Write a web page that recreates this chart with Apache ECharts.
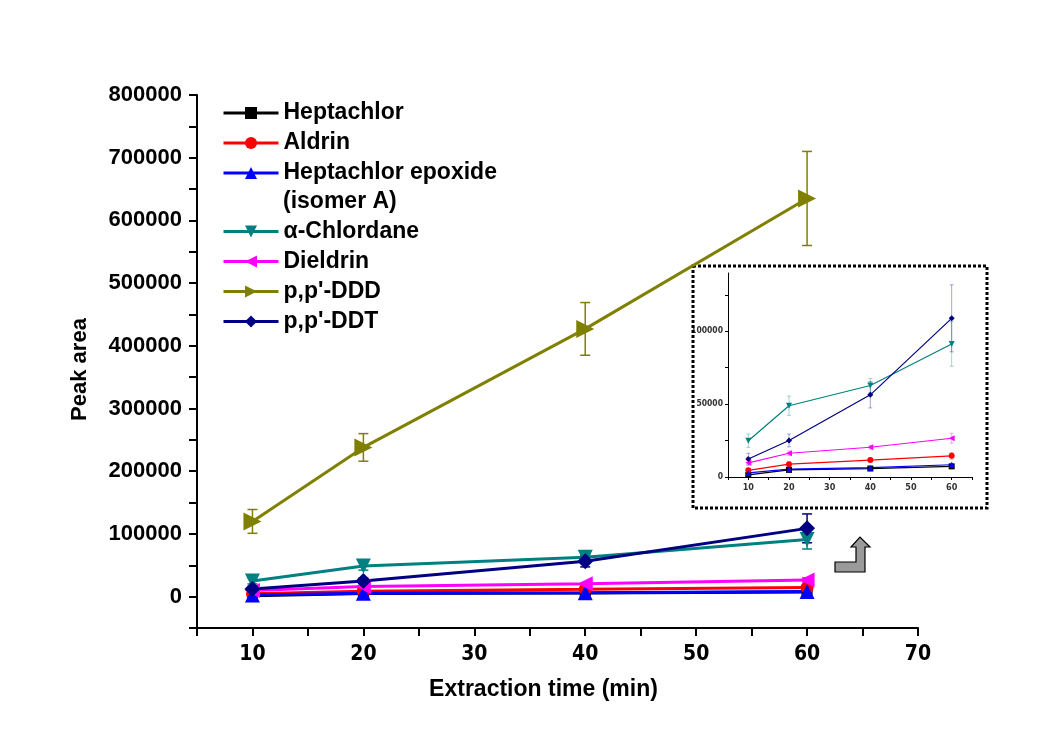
<!DOCTYPE html>
<html>
<head>
<meta charset="utf-8">
<script src="https://cdn.jsdelivr.net/npm/echarts@6/dist/echarts.min.js"></script>
<style>
  html, body { margin: 0; padding: 0; background: #ffffff; }
  #chart { width: 1050px; height: 746px; }
</style>
</head>
<body>
<div id="chart"></div>
<script>
// Extraction times (min)
const times = [10, 20, 40, 60];

// Series names
const seriesNames = [
  'Heptachlor', 'Aldrin', 'Heptachlor epoxide (isomer A)',
  'α-Chlordane', 'Dieldrin', "p,p'-DDD", "p,p'-DDT"
];

// Mean peak areas and standard deviations per compound
const heptachlor    = [1400, 4900, 5800, 7300];
const heptachlorSd  = [600, 800, 700, 700];
const aldrin        = [4600, 8800, 11600, 14500];
const aldrinSd      = [1200, 1500, 1200, 2200];
const epoxide       = [2800, 5400, 6400, 8400];
const epoxideSd     = [800, 900, 800, 1000];
const chlordane     = [24900, 48900, 62800, 91300];
const chlordaneSd   = [4600, 6600, 4800, 15300];
const dieldrin      = [9700, 16300, 20400, 26600];
const dieldrinSd    = [1600, 1500, 1200, 3400];
const ddd           = [120000, 238000, 427000, 635000];
const dddSd         = [19000, 22000, 42000, 75000];
const ddt           = [12300, 25100, 56400, 108900];
const ddtSd         = [4000, 4400, 9000, 23000];

// Tick labels
const xTickLabels      = [10, 20, 30, 40, 50, 60, 70];
const yTickLabels      = [0, 100000, 200000, 300000, 400000, 500000, 600000, 700000, 800000];
const insetXTickLabels = [10, 20, 30, 40, 50, 60];
const insetYTickLabels = [0, 50000, 100000];

const values = [heptachlor, aldrin, epoxide, chlordane, dieldrin, ddd, ddt];
const sds    = [heptachlorSd, aldrinSd, epoxideSd, chlordaneSd, dieldrinSd, dddSd, ddtSd];
const colors = ['#000000', '#ff0000', '#0000ff', '#008080', '#ff00ff', '#808000', '#000080'];
const symbols = ['rect', 'circle', 'triangle', 'triangle', 'triangle', 'triangle', 'diamond'];
const rotations = [0, 0, 0, 180, 90, -90, 0];
const mainSizes = [11, 13, 15, 15, 15, 18, 16];
const insetIncluded = [true, true, true, true, true, false, true];

const boldFont = '"Liberation Sans", Arial, sans-serif';
const narrowFont = '"Liberation Sans Narrow", "Arial Narrow", "DejaVu Sans Condensed", "Liberation Sans", sans-serif';

function errorBars(name, vals, sd, color, axisIndex, lineWidth, capHalf, opacity) {
  return {
    type: 'custom',
    name: name,
    xAxisIndex: axisIndex,
    yAxisIndex: axisIndex,
    silent: true,
    z: 3,
    encode: { x: 0, y: [1, 2] },
    data: times.map((t, i) => [t, vals[i] - sd[i], vals[i] + sd[i]]),
    renderItem: function (params, api) {
      const lo = api.coord([api.value(0), api.value(1)]);
      const hi = api.coord([api.value(0), api.value(2)]);
      const style = { stroke: color, lineWidth: lineWidth, opacity: opacity };
      return {
        type: 'group',
        children: [
          { type: 'line', shape: { x1: lo[0], y1: lo[1], x2: hi[0], y2: hi[1] }, style: style },
          { type: 'line', shape: { x1: lo[0] - capHalf, y1: lo[1], x2: lo[0] + capHalf, y2: lo[1] }, style: style },
          { type: 'line', shape: { x1: hi[0] - capHalf, y1: hi[1], x2: hi[0] + capHalf, y2: hi[1] }, style: style }
        ]
      };
    }
  };
}

const lineSeries = [];
const barSeries = [];
seriesNames.forEach((name, k) => {
  lineSeries.push({
    type: 'line',
    name: name,
    xAxisIndex: 0,
    yAxisIndex: 0,
    data: times.map((t, i) => [t, values[k][i]]),
    symbol: symbols[k],
    symbolRotate: rotations[k],
    symbolSize: mainSizes[k],
    showAllSymbol: true,
    lineStyle: { color: colors[k], width: 3 },
    itemStyle: { color: colors[k], borderWidth: 0 },
    z: 4
  });
  barSeries.push(errorBars(name, values[k], sds[k], colors[k], 0, 1.5, 5, 1));
  if (insetIncluded[k]) {
    lineSeries.push({
      type: 'line',
      name: name,
      xAxisIndex: 1,
      yAxisIndex: 1,
      data: times.map((t, i) => [t, values[k][i]]),
      symbol: symbols[k],
      symbolRotate: rotations[k],
      symbolSize: 6,
      showAllSymbol: true,
      lineStyle: { color: colors[k], width: 1.2 },
      itemStyle: { color: colors[k], borderWidth: 0 },
      z: 12
    });
    const b = errorBars(name, values[k], sds[k], colors[k], 1, 1, 2, 0.35);
    b.z = 11;
    barSeries.push(b);
  }
});

const legendCommon = {
  orient: 'vertical',
  left: 222,
  padding: 0,
  itemWidth: 55,
  itemHeight: 15,
  itemGap: 7,
  lineStyle: { width: 3 },
  textStyle: { fontFamily: boldFont, fontWeight: 'bold', fontSize: 23, color: '#000' }
};

const option = {
  animation: false,
  backgroundColor: '#ffffff',
  legend: [
    Object.assign({}, legendCommon, {
      top: 101.5,
      data: seriesNames.slice(0, 3),
      formatter: n => n.replace(' (isomer A)', '')
    }),
    Object.assign({}, legendCommon, {
      top: 220,
      data: seriesNames.slice(3)
    })
  ],
  grid: [
    { left: 197, top: 95, width: 721, height: 533 },
    { left: 728, top: 273, width: 244, height: 204 }
  ],
  xAxis: [
    {
      gridIndex: 0, type: 'value', min: 5, max: 70, interval: 5,
      name: 'Extraction time (min)', nameLocation: 'middle', nameGap: 50,
      nameTextStyle: {
        fontFamily: boldFont, fontWeight: 'bold', fontSize: 23, color: '#000',
        padding: [0, 28, 0, 0]
      },
      axisLine: { onZero: false, lineStyle: { color: '#000', width: 2 } },
      axisTick: { length: 8, lineStyle: { color: '#000', width: 2 } },
      splitLine: { show: false },
      axisLabel: {
        margin: 16, fontFamily: narrowFont, fontWeight: 'bold', fontSize: 21, color: '#000',
        formatter: v => xTickLabels.includes(v) ? String(v) : ''
      }
    },
    {
      gridIndex: 1, type: 'value', min: 5, max: 65, interval: 5,
      axisLine: { onZero: false, lineStyle: { color: '#000', width: 1 } },
      axisTick: { length: 3, lineStyle: { color: '#000', width: 1 } },
      splitLine: { show: false },
      axisLabel: {
        margin: 6, fontFamily: narrowFont, fontWeight: 'bold', fontSize: 9, color: '#333',
        formatter: v => insetXTickLabels.includes(v) ? String(v) : ''
      }
    }
  ],
  yAxis: [
    {
      gridIndex: 0, type: 'value', min: -50000, max: 800000, interval: 50000,
      name: 'Peak area', nameLocation: 'middle', nameGap: 106, nameRotate: 90,
      nameTextStyle: {
        fontFamily: boldFont, fontWeight: 'bold', fontSize: 22, color: '#000',
        padding: [0, 16, 0, 0]
      },
      axisLine: { show: true, onZero: false, lineStyle: { color: '#000', width: 2 } },
      axisTick: { show: true, length: 8, lineStyle: { color: '#000', width: 2 } },
      splitLine: { show: false },
      axisLabel: {
        margin: 15, fontFamily: boldFont, fontWeight: 'bold', fontSize: 22, color: '#000',
        formatter: v => yTickLabels.includes(v) ? String(v) : ''
      }
    },
    {
      gridIndex: 1, type: 'value', min: 0, max: 140000, interval: 25000,
      axisLine: { show: true, onZero: false, lineStyle: { color: '#000', width: 1 } },
      axisTick: { show: true, length: 3, lineStyle: { color: '#000', width: 1 } },
      splitLine: { show: false },
      axisLabel: {
        margin: 5, fontFamily: narrowFont, fontWeight: 'bold', fontSize: 8.5, color: '#333',
        showMaxLabel: false,
        formatter: v => insetYTickLabels.includes(v) ? String(v) : ''
      }
    }
  ],
  graphic: [
    {
      type: 'text', left: 283, top: 190, z: 100,
      style: { text: '(isomer A)', fontFamily: boldFont, fontWeight: 'bold', fontSize: 23, fill: '#000' }
    },
    {
      type: 'rect', z: 1,
      shape: { x: 693, y: 266, width: 294, height: 242 },
      style: { fill: 'rgba(255,255,255,0)', stroke: '#000', lineWidth: 3, lineDash: [3, 2] }
    },
    {
      type: 'polygon', z: 100,
      shape: {
        points: [[835, 562], [856, 562], [856, 547], [851, 547], [860, 537], [870, 547], [865, 547], [865, 572], [835, 572]]
      },
      style: { fill: '#9a9a9a', stroke: '#000', lineWidth: 1.2 }
    }
  ],
  series: lineSeries.concat(barSeries)
};

const chart = echarts.init(document.getElementById('chart'), null, { renderer: 'canvas' });
chart.setOption(option);
</script>
</body>
</html>
